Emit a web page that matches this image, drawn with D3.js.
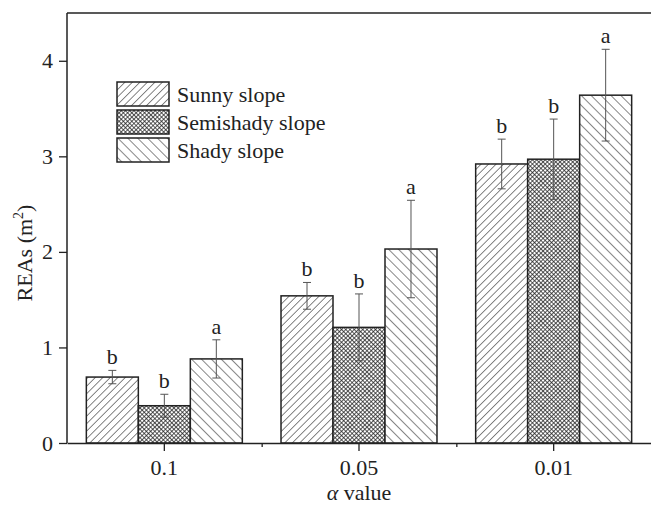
<!DOCTYPE html>
<html>
<head>
<meta charset="utf-8">
<script src="https://cdn.jsdelivr.net/npm/d3@7"></script>
</head>
<body style="margin:0">
<script>
/* DATA */
const categories = ["0.1", "0.05", "0.01"];
const series = ["Sunny slope", "Semishady slope", "Shady slope"];
const sunny = [0.69, 1.54, 2.92];
const sunnyErr = [0.07, 0.14, 0.26];
const sunnyLetters = ["b", "b", "b"];
const semishady = [0.39, 1.21, 2.97];
const semishadyErr = [0.12, 0.35, 0.42];
const semishadyLetters = ["b", "b", "b"];
const shady = [0.88, 2.03, 3.64];
const shadyErr = [0.20, 0.51, 0.48];
const shadyLetters = ["a", "a", "a"];
const yTicks = [0, 1, 2, 3, 4];

/* CONSTANTS */
const width = 651, height = 506;
const margin = { top: 13, right: 0, bottom: 63, left: 67 };
const patternIds = ["pSunny", "pSemi", "pShady"];
const fontName = "Liberation Serif";

const values = [sunny, semishady, shady];
const errs = [sunnyErr, semishadyErr, shadyErr];
const letters = [sunnyLetters, semishadyLetters, shadyLetters];

// flat rows for drawing
const rows = [];
categories.forEach((c, i) => {
  series.forEach((s, j) => {
    rows.push({ cat: c, series: s, idx: j, value: values[j][i], err: errs[j][i], letter: letters[j][i] });
  });
});

const svg = d3.select("body").append("svg")
  .attr("width", width)
  .attr("height", height)
  .attr("font-family", fontName)
  .style("font-family", `"${fontName}"`);

/* PATTERNS */
const defs = svg.append("defs");
function hatch(id, size, angle, sw) {
  const p = defs.append("pattern")
    .attr("id", id)
    .attr("patternUnits", "userSpaceOnUse")
    .attr("width", size).attr("height", size)
    .attr("patternTransform", `rotate(${angle})`);
  p.append("rect").attr("width", size).attr("height", size).attr("fill", "#fff");
  p.append("line").attr("x1", 0).attr("y1", 0).attr("x2", 0).attr("y2", size)
    .attr("stroke", "#222").attr("stroke-width", sw);
  return p;
}
hatch("pSunny", 5.3, 45, 1.1);
hatch("pShady", 7, -45, 1.1);
const cross = hatch("pSemi", 3, 45, 1.5);
cross.append("line").attr("x1", 0).attr("y1", 0).attr("x2", 3).attr("y2", 0)
  .attr("stroke", "#222").attr("stroke-width", 1.5);

/* SCALES */
const x0 = d3.scaleBand()
  .domain(categories)
  .range([margin.left, width - margin.right])
  .padding(0);

const x1 = d3.scaleBand()
  .domain(series)
  .range([0, x0.bandwidth()])
  .paddingInner(0)
  .paddingOuter(0.372);

const yScale = d3.scaleLinear()
  .domain([0, 4.5])
  .range([height - margin.bottom, margin.top]);

/* BARS */
svg.selectAll("rect.bar")
  .data(rows)
  .join("rect")
  .attr("class", "bar")
  .attr("x", d => x0(d.cat) + x1(d.series))
  .attr("y", d => yScale(d.value))
  .attr("width", x1.bandwidth())
  .attr("height", d => yScale(0) - yScale(d.value))
  .attr("fill", d => `url(#${patternIds[d.idx]})`)
  .attr("stroke", "#222")
  .attr("stroke-width", 1.5);

/* ERROR BARS */
const eb = svg.selectAll("g.err")
  .data(rows)
  .join("g")
  .attr("class", "err")
  .attr("transform", d => `translate(${x0(d.cat) + x1(d.series) + x1.bandwidth() / 2},0)`);
eb.append("line")
  .attr("y1", d => yScale(d.value - d.err))
  .attr("y2", d => yScale(d.value + d.err))
  .attr("stroke", "#555").attr("stroke-width", 1);
eb.selectAll("line.cap")
  .data(d => [d.value - d.err, d.value + d.err])
  .join("line")
  .attr("class", "cap")
  .attr("x1", -4).attr("x2", 4)
  .attr("y1", v => yScale(v)).attr("y2", v => yScale(v))
  .attr("stroke", "#555").attr("stroke-width", 1);
eb.append("text")
  .attr("text-anchor", "middle")
  .attr("y", d => yScale(d.value + d.err) - 6)
  .text(d => d.letter);

/* AXES */
const yAxis = d3.axisLeft(yScale)
  .tickValues(yTicks)
  .tickSize(8)
  .tickPadding(6)
  .tickFormat(d3.format("d"));
const gy = svg.append("g")
  .attr("transform", `translate(${margin.left},0)`)
  .call(yAxis);

const xAxis = d3.axisBottom(x0).tickSize(8).tickPadding(8).tickSizeOuter(0);
const gx = svg.append("g")
  .attr("transform", `translate(0,${yScale(0)})`)
  .call(xAxis);

// minor ticks between the groups
const xMinor = d3.scaleLinear().domain([0, categories.length]).range(x0.range());
const gxm = svg.append("g")
  .attr("transform", `translate(0,${yScale(0)})`)
  .call(d3.axisBottom(xMinor).tickValues([1, 2]).tickSize(4).tickFormat(""));
gxm.select(".domain").remove();

[gx, gy, gxm].forEach(g => {
  g.attr("font-family", fontName).attr("font-size", 22);
  g.selectAll("path.domain").attr("stroke", "#222").attr("stroke-width", 1.5);
  g.selectAll(".tick line").attr("stroke", "#222").attr("stroke-width", 1.3);
});
gy.select("path.domain").attr("d", `M0,${yScale(0)}V${margin.top}`);

// top frame line
svg.append("line")
  .attr("x1", margin.left).attr("x2", width)
  .attr("y1", margin.top).attr("y2", margin.top)
  .attr("stroke", "#222").attr("stroke-width", 1.5);

/* AXIS TITLES */
const yt = svg.append("text")
  .attr("transform", `translate(32,253) rotate(-90)`)
  .attr("text-anchor", "middle");
yt.append("tspan").text("REAs (m");
yt.append("tspan").attr("dy", -9).attr("class", "sup").text("2");
yt.append("tspan").attr("dy", 9).text(")");

const xt = svg.append("text")
  .attr("x", (margin.left + width) / 2)
  .attr("y", 500)
  .attr("text-anchor", "middle");
xt.append("tspan").style("font-style", "italic").text("α");
xt.append("tspan").text(" value");

/* LEGEND */
const legend = svg.selectAll("g.legend")
  .data(series)
  .join("g")
  .attr("class", "legend")
  .attr("transform", (d, i) => `translate(117,${82 + i * 28})`);
legend.append("rect")
  .attr("width", 52).attr("height", 24)
  .attr("fill", (d, i) => `url(#${patternIds[i]})`)
  .attr("stroke", "#222").attr("stroke-width", 1.5);
legend.append("text")
  .attr("x", 60).attr("y", 20)
  .text(d => d);

// one serif font for every text
svg.selectAll("text")
  .attr("font-family", fontName)
  .style("font-family", `"${fontName}"`)
  .style("font-size", "22px")
  .style("fill", "#222");
svg.selectAll("tspan.sup").style("font-size", "14px");
</script>
</body>
</html>
